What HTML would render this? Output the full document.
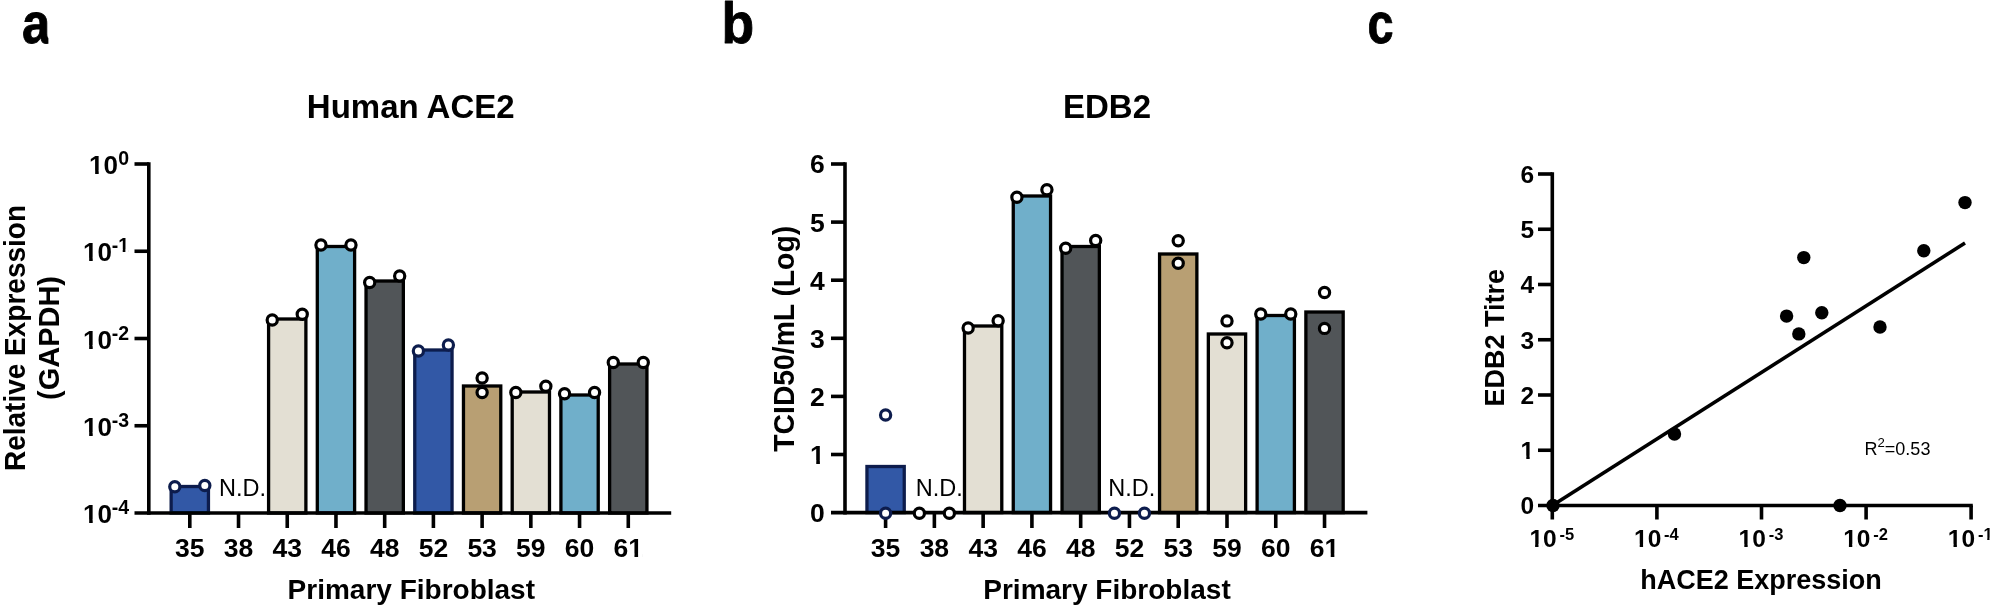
<!DOCTYPE html>
<html lang="en"><head><meta charset="utf-8"><title>Figure</title>
<style>
html,body{margin:0;padding:0;background:#fff;}
body{width:1992px;height:608px;overflow:hidden;}
svg{display:block;font-family:"Liberation Sans", Arial, Helvetica, sans-serif;fill:#000;}
</style></head>
<body>
<svg width="1992" height="608" viewBox="0 0 1992 608">
<defs><filter id="soft" x="0" y="0" width="1992" height="608" filterUnits="userSpaceOnUse"><feGaussianBlur stdDeviation="0.5"/></filter></defs>
<rect width="1992" height="608" fill="#fff"/>
<g filter="url(#soft)">
<rect width="1992" height="608" fill="#fff"/>
<text transform="translate(22.0 42.6) scale(0.885 1)" font-size="57.5" font-weight="bold" stroke="#000" stroke-width="0.9" stroke-linejoin="round">a</text>
<rect x="48.4" y="28" width="6" height="18" fill="#fff"/>
<text transform="translate(721.4 42.6) scale(0.93 1)" font-size="57.5" font-weight="bold" stroke="#000" stroke-width="0.9" stroke-linejoin="round">b</text>
<text transform="translate(1367.5 42.6) scale(0.815 1)" font-size="57.5" font-weight="bold" stroke="#000" stroke-width="0.9" stroke-linejoin="round">c</text>
<text x="306.8" y="117.9" font-size="33" font-weight="bold" text-anchor="start" >Human ACE2</text>
<rect x="171.15" y="486.50" width="37.3" height="26.50" fill="#3058a6" stroke="#0f1f4d" stroke-width="3.3"/>
<rect x="268.59" y="319.00" width="37.3" height="194.00" fill="#e3dfd3" stroke="#000" stroke-width="3.3"/>
<rect x="317.31" y="246.50" width="37.3" height="266.50" fill="#70afca" stroke="#000" stroke-width="3.3"/>
<rect x="366.03" y="281.00" width="37.3" height="232.00" fill="#515559" stroke="#000" stroke-width="3.3"/>
<rect x="414.75" y="350.00" width="37.3" height="163.00" fill="#3058a6" stroke="#0f1f4d" stroke-width="3.3"/>
<rect x="463.47" y="386.00" width="37.3" height="127.00" fill="#b89f73" stroke="#000" stroke-width="3.3"/>
<rect x="512.19" y="392.00" width="37.3" height="121.00" fill="#e3dfd3" stroke="#000" stroke-width="3.3"/>
<rect x="560.91" y="395.00" width="37.3" height="118.00" fill="#70afca" stroke="#000" stroke-width="3.3"/>
<rect x="609.63" y="364.00" width="37.3" height="149.00" fill="#515559" stroke="#000" stroke-width="3.3"/>
<line x1="148.80" y1="162.20" x2="148.80" y2="514.80" stroke="#000" stroke-width="3.6" stroke-linecap="butt"/>
<line x1="134.50" y1="513.00" x2="671.20" y2="513.00" stroke="#000" stroke-width="3.6" stroke-linecap="butt"/>
<line x1="134.50" y1="164.00" x2="148.80" y2="164.00" stroke="#000" stroke-width="3.6" stroke-linecap="butt"/>
<line x1="134.50" y1="251.25" x2="148.80" y2="251.25" stroke="#000" stroke-width="3.6" stroke-linecap="butt"/>
<line x1="134.50" y1="338.50" x2="148.80" y2="338.50" stroke="#000" stroke-width="3.6" stroke-linecap="butt"/>
<line x1="134.50" y1="425.75" x2="148.80" y2="425.75" stroke="#000" stroke-width="3.6" stroke-linecap="butt"/>
<line x1="189.80" y1="513.00" x2="189.80" y2="528.00" stroke="#000" stroke-width="3.6" stroke-linecap="butt"/>
<line x1="238.52" y1="513.00" x2="238.52" y2="528.00" stroke="#000" stroke-width="3.6" stroke-linecap="butt"/>
<line x1="287.24" y1="513.00" x2="287.24" y2="528.00" stroke="#000" stroke-width="3.6" stroke-linecap="butt"/>
<line x1="335.96" y1="513.00" x2="335.96" y2="528.00" stroke="#000" stroke-width="3.6" stroke-linecap="butt"/>
<line x1="384.68" y1="513.00" x2="384.68" y2="528.00" stroke="#000" stroke-width="3.6" stroke-linecap="butt"/>
<line x1="433.40" y1="513.00" x2="433.40" y2="528.00" stroke="#000" stroke-width="3.6" stroke-linecap="butt"/>
<line x1="482.12" y1="513.00" x2="482.12" y2="528.00" stroke="#000" stroke-width="3.6" stroke-linecap="butt"/>
<line x1="530.84" y1="513.00" x2="530.84" y2="528.00" stroke="#000" stroke-width="3.6" stroke-linecap="butt"/>
<line x1="579.56" y1="513.00" x2="579.56" y2="528.00" stroke="#000" stroke-width="3.6" stroke-linecap="butt"/>
<line x1="628.28" y1="513.00" x2="628.28" y2="528.00" stroke="#000" stroke-width="3.6" stroke-linecap="butt"/>
<circle cx="174.80" cy="486.80" r="5.1" fill="#fff" stroke="#0f1f4d" stroke-width="3.2"/>
<circle cx="204.80" cy="485.50" r="5.1" fill="#fff" stroke="#0f1f4d" stroke-width="3.2"/>
<circle cx="272.24" cy="320.00" r="5.1" fill="#fff" stroke="#000" stroke-width="3.2"/>
<circle cx="302.24" cy="314.30" r="5.1" fill="#fff" stroke="#000" stroke-width="3.2"/>
<circle cx="320.96" cy="245.00" r="5.1" fill="#fff" stroke="#000" stroke-width="3.2"/>
<circle cx="350.96" cy="245.00" r="5.1" fill="#fff" stroke="#000" stroke-width="3.2"/>
<circle cx="369.68" cy="282.50" r="5.1" fill="#fff" stroke="#000" stroke-width="3.2"/>
<circle cx="399.68" cy="276.00" r="5.1" fill="#fff" stroke="#000" stroke-width="3.2"/>
<circle cx="418.40" cy="351.00" r="5.1" fill="#fff" stroke="#0f1f4d" stroke-width="3.2"/>
<circle cx="448.40" cy="345.00" r="5.1" fill="#fff" stroke="#0f1f4d" stroke-width="3.2"/>
<circle cx="482.12" cy="378.00" r="5.1" fill="#fff" stroke="#000" stroke-width="3.2"/>
<circle cx="482.12" cy="392.50" r="5.1" fill="#fff" stroke="#000" stroke-width="3.2"/>
<circle cx="515.84" cy="392.50" r="5.1" fill="#fff" stroke="#000" stroke-width="3.2"/>
<circle cx="545.84" cy="386.30" r="5.1" fill="#fff" stroke="#000" stroke-width="3.2"/>
<circle cx="564.56" cy="393.80" r="5.1" fill="#fff" stroke="#000" stroke-width="3.2"/>
<circle cx="594.56" cy="392.50" r="5.1" fill="#fff" stroke="#000" stroke-width="3.2"/>
<circle cx="613.28" cy="362.50" r="5.1" fill="#fff" stroke="#000" stroke-width="3.2"/>
<circle cx="643.28" cy="362.50" r="5.1" fill="#fff" stroke="#000" stroke-width="3.2"/>
<text x="175.07" y="557.30" font-size="26.5" font-weight="bold">35</text>
<text x="223.79" y="557.30" font-size="26.5" font-weight="bold">38</text>
<text x="272.51" y="557.30" font-size="26.5" font-weight="bold">43</text>
<text x="321.23" y="557.30" font-size="26.5" font-weight="bold">46</text>
<text x="369.95" y="557.30" font-size="26.5" font-weight="bold">48</text>
<text x="418.67" y="557.30" font-size="26.5" font-weight="bold">52</text>
<text x="467.39" y="557.30" font-size="26.5" font-weight="bold">53</text>
<text x="516.11" y="557.30" font-size="26.5" font-weight="bold">59</text>
<text x="564.83" y="557.30" font-size="26.5" font-weight="bold">60</text>
<text x="613.55" y="557.30" font-size="26.5" font-weight="bold">61</text>
<rect x="629.07" y="553.72" width="5.39" height="4.37" fill="#fff"/>
<rect x="638.10" y="553.72" width="4.77" height="4.37" fill="#fff"/>
<text x="118.16" y="165.00" font-size="19.5" font-weight="bold">0</text>
<text x="89.09" y="174.00" font-size="26" font-weight="bold">10</text>
<rect x="89.87" y="170.49" width="5.29" height="4.29" fill="#fff"/>
<rect x="98.72" y="170.49" width="4.68" height="4.29" fill="#fff"/>
<text x="111.66" y="252.25" font-size="19.5" font-weight="bold">-1</text>
<rect x="118.74" y="249.62" width="3.97" height="3.22" fill="#fff"/>
<rect x="125.38" y="249.62" width="3.51" height="3.22" fill="#fff"/>
<text x="83.09" y="261.25" font-size="26" font-weight="bold">10</text>
<rect x="83.87" y="257.74" width="5.29" height="4.29" fill="#fff"/>
<rect x="92.72" y="257.74" width="4.68" height="4.29" fill="#fff"/>
<text x="111.66" y="339.50" font-size="19.5" font-weight="bold">-2</text>
<text x="83.09" y="348.50" font-size="26" font-weight="bold">10</text>
<rect x="83.87" y="344.99" width="5.29" height="4.29" fill="#fff"/>
<rect x="92.72" y="344.99" width="4.68" height="4.29" fill="#fff"/>
<text x="111.66" y="426.75" font-size="19.5" font-weight="bold">-3</text>
<text x="83.09" y="435.75" font-size="26" font-weight="bold">10</text>
<rect x="83.87" y="432.24" width="5.29" height="4.29" fill="#fff"/>
<rect x="92.72" y="432.24" width="4.68" height="4.29" fill="#fff"/>
<text x="111.66" y="514.00" font-size="19.5" font-weight="bold">-4</text>
<text x="83.09" y="523.00" font-size="26" font-weight="bold">10</text>
<rect x="83.87" y="519.49" width="5.29" height="4.29" fill="#fff"/>
<rect x="92.72" y="519.49" width="4.68" height="4.29" fill="#fff"/>
<text x="219" y="496" font-size="23.5" font-weight="normal" text-anchor="start" >N.D.</text>
<text x="411.3" y="599.3" font-size="28" font-weight="bold" text-anchor="middle" >Primary Fibroblast</text>
<text transform="translate(25.3 338) rotate(-90) scale(1 1.07)" font-size="28" font-weight="bold" text-anchor="middle">Relative Expression</text>
<text transform="translate(59.0 338) rotate(-90) scale(1 1.02)" font-size="29" font-weight="bold" text-anchor="middle">(GAPDH)</text>
<text x="1107" y="118" font-size="33" font-weight="bold" text-anchor="middle" >EDB2</text>
<rect x="866.95" y="466.50" width="37.3" height="46.10" fill="#3058a6" stroke="#0f1f4d" stroke-width="3.3"/>
<rect x="964.49" y="326.00" width="37.3" height="186.60" fill="#e3dfd3" stroke="#000" stroke-width="3.3"/>
<rect x="1013.26" y="196.00" width="37.3" height="316.60" fill="#70afca" stroke="#000" stroke-width="3.3"/>
<rect x="1062.03" y="246.50" width="37.3" height="266.10" fill="#515559" stroke="#000" stroke-width="3.3"/>
<rect x="1159.57" y="254.00" width="37.3" height="258.60" fill="#b89f73" stroke="#000" stroke-width="3.3"/>
<rect x="1208.34" y="334.00" width="37.3" height="178.60" fill="#e3dfd3" stroke="#000" stroke-width="3.3"/>
<rect x="1257.11" y="315.50" width="37.3" height="197.10" fill="#70afca" stroke="#000" stroke-width="3.3"/>
<rect x="1305.88" y="312.00" width="37.3" height="200.60" fill="#515559" stroke="#000" stroke-width="3.3"/>
<line x1="845.00" y1="162.20" x2="845.00" y2="514.40" stroke="#000" stroke-width="3.6" stroke-linecap="butt"/>
<line x1="831.00" y1="512.60" x2="1367.40" y2="512.60" stroke="#000" stroke-width="3.6" stroke-linecap="butt"/>
<line x1="831.00" y1="164.00" x2="845.00" y2="164.00" stroke="#000" stroke-width="3.6" stroke-linecap="butt"/>
<line x1="831.00" y1="222.10" x2="845.00" y2="222.10" stroke="#000" stroke-width="3.6" stroke-linecap="butt"/>
<line x1="831.00" y1="280.20" x2="845.00" y2="280.20" stroke="#000" stroke-width="3.6" stroke-linecap="butt"/>
<line x1="831.00" y1="338.30" x2="845.00" y2="338.30" stroke="#000" stroke-width="3.6" stroke-linecap="butt"/>
<line x1="831.00" y1="396.40" x2="845.00" y2="396.40" stroke="#000" stroke-width="3.6" stroke-linecap="butt"/>
<line x1="831.00" y1="454.50" x2="845.00" y2="454.50" stroke="#000" stroke-width="3.6" stroke-linecap="butt"/>
<line x1="885.60" y1="512.60" x2="885.60" y2="528.00" stroke="#000" stroke-width="3.6" stroke-linecap="butt"/>
<line x1="934.37" y1="512.60" x2="934.37" y2="528.00" stroke="#000" stroke-width="3.6" stroke-linecap="butt"/>
<line x1="983.14" y1="512.60" x2="983.14" y2="528.00" stroke="#000" stroke-width="3.6" stroke-linecap="butt"/>
<line x1="1031.91" y1="512.60" x2="1031.91" y2="528.00" stroke="#000" stroke-width="3.6" stroke-linecap="butt"/>
<line x1="1080.68" y1="512.60" x2="1080.68" y2="528.00" stroke="#000" stroke-width="3.6" stroke-linecap="butt"/>
<line x1="1129.45" y1="512.60" x2="1129.45" y2="528.00" stroke="#000" stroke-width="3.6" stroke-linecap="butt"/>
<line x1="1178.22" y1="512.60" x2="1178.22" y2="528.00" stroke="#000" stroke-width="3.6" stroke-linecap="butt"/>
<line x1="1226.99" y1="512.60" x2="1226.99" y2="528.00" stroke="#000" stroke-width="3.6" stroke-linecap="butt"/>
<line x1="1275.76" y1="512.60" x2="1275.76" y2="528.00" stroke="#000" stroke-width="3.6" stroke-linecap="butt"/>
<line x1="1324.53" y1="512.60" x2="1324.53" y2="528.00" stroke="#000" stroke-width="3.6" stroke-linecap="butt"/>
<circle cx="968.14" cy="328.00" r="5.1" fill="#fff" stroke="#000" stroke-width="3.2"/>
<circle cx="998.14" cy="320.70" r="5.1" fill="#fff" stroke="#000" stroke-width="3.2"/>
<circle cx="1016.91" cy="197.30" r="5.1" fill="#fff" stroke="#000" stroke-width="3.2"/>
<circle cx="1046.91" cy="189.80" r="5.1" fill="#fff" stroke="#000" stroke-width="3.2"/>
<circle cx="1065.68" cy="248.20" r="5.1" fill="#fff" stroke="#000" stroke-width="3.2"/>
<circle cx="1095.68" cy="240.40" r="5.1" fill="#fff" stroke="#000" stroke-width="3.2"/>
<circle cx="1178.22" cy="240.70" r="5.1" fill="#fff" stroke="#000" stroke-width="3.2"/>
<circle cx="1178.22" cy="263.20" r="5.1" fill="#fff" stroke="#000" stroke-width="3.2"/>
<circle cx="1226.99" cy="320.90" r="5.1" fill="#fff" stroke="#000" stroke-width="3.2"/>
<circle cx="1226.99" cy="342.80" r="5.1" fill="#fff" stroke="#000" stroke-width="3.2"/>
<circle cx="1260.76" cy="314.00" r="5.1" fill="#fff" stroke="#000" stroke-width="3.2"/>
<circle cx="1290.76" cy="314.00" r="5.1" fill="#fff" stroke="#000" stroke-width="3.2"/>
<circle cx="1324.53" cy="292.50" r="5.1" fill="#fff" stroke="#000" stroke-width="3.2"/>
<circle cx="1324.53" cy="328.40" r="5.1" fill="#fff" stroke="#000" stroke-width="3.2"/>
<circle cx="885.60" cy="415.00" r="5.1" fill="#fff" stroke="#0f1f4d" stroke-width="3.2"/>
<circle cx="885.60" cy="513.20" r="5.1" fill="#fff" stroke="#0f1f4d" stroke-width="3.2"/>
<circle cx="919.37" cy="513.20" r="5.1" fill="#fff" stroke="#000" stroke-width="3.2"/>
<circle cx="949.37" cy="513.20" r="5.1" fill="#fff" stroke="#000" stroke-width="3.2"/>
<circle cx="1114.45" cy="513.20" r="5.1" fill="#fff" stroke="#0f1f4d" stroke-width="3.2"/>
<circle cx="1144.45" cy="513.20" r="5.1" fill="#fff" stroke="#0f1f4d" stroke-width="3.2"/>
<text x="870.87" y="557.30" font-size="26.5" font-weight="bold">35</text>
<text x="919.64" y="557.30" font-size="26.5" font-weight="bold">38</text>
<text x="968.41" y="557.30" font-size="26.5" font-weight="bold">43</text>
<text x="1017.18" y="557.30" font-size="26.5" font-weight="bold">46</text>
<text x="1065.95" y="557.30" font-size="26.5" font-weight="bold">48</text>
<text x="1114.72" y="557.30" font-size="26.5" font-weight="bold">52</text>
<text x="1163.49" y="557.30" font-size="26.5" font-weight="bold">53</text>
<text x="1212.26" y="557.30" font-size="26.5" font-weight="bold">59</text>
<text x="1261.03" y="557.30" font-size="26.5" font-weight="bold">60</text>
<text x="1309.80" y="557.30" font-size="26.5" font-weight="bold">61</text>
<rect x="1325.33" y="553.72" width="5.39" height="4.37" fill="#fff"/>
<rect x="1334.35" y="553.72" width="4.77" height="4.37" fill="#fff"/>
<text x="810.07" y="173.40" font-size="26.5" font-weight="bold">6</text>
<text x="810.07" y="231.50" font-size="26.5" font-weight="bold">5</text>
<text x="810.07" y="289.60" font-size="26.5" font-weight="bold">4</text>
<text x="810.07" y="347.70" font-size="26.5" font-weight="bold">3</text>
<text x="810.07" y="405.80" font-size="26.5" font-weight="bold">2</text>
<text x="810.07" y="463.90" font-size="26.5" font-weight="bold">1</text>
<rect x="810.86" y="460.32" width="5.39" height="4.37" fill="#fff"/>
<rect x="819.89" y="460.32" width="4.77" height="4.37" fill="#fff"/>
<text x="810.07" y="522.00" font-size="26.5" font-weight="bold">0</text>
<text x="915.7" y="496" font-size="23.5" font-weight="normal" text-anchor="start" >N.D.</text>
<text x="1108.3" y="496" font-size="23.5" font-weight="normal" text-anchor="start" >N.D.</text>
<text x="1107" y="599.3" font-size="28" font-weight="bold" text-anchor="middle" >Primary Fibroblast</text>
<text transform="translate(793.8 338.8) rotate(-90) scale(1 1.04)" font-size="28.3" font-weight="bold" text-anchor="middle">TCID50/mL (Log)</text>
<line x1="1552.30" y1="172.20" x2="1552.30" y2="505.50" stroke="#000" stroke-width="3.6" stroke-linecap="butt"/>
<line x1="1538.00" y1="505.50" x2="1972.80" y2="505.50" stroke="#000" stroke-width="3.6" stroke-linecap="butt"/>
<line x1="1538.00" y1="174.00" x2="1552.30" y2="174.00" stroke="#000" stroke-width="3.6" stroke-linecap="butt"/>
<line x1="1538.00" y1="229.25" x2="1552.30" y2="229.25" stroke="#000" stroke-width="3.6" stroke-linecap="butt"/>
<line x1="1538.00" y1="284.50" x2="1552.30" y2="284.50" stroke="#000" stroke-width="3.6" stroke-linecap="butt"/>
<line x1="1538.00" y1="339.75" x2="1552.30" y2="339.75" stroke="#000" stroke-width="3.6" stroke-linecap="butt"/>
<line x1="1538.00" y1="395.00" x2="1552.30" y2="395.00" stroke="#000" stroke-width="3.6" stroke-linecap="butt"/>
<line x1="1538.00" y1="450.25" x2="1552.30" y2="450.25" stroke="#000" stroke-width="3.6" stroke-linecap="butt"/>
<line x1="1552.30" y1="505.50" x2="1552.30" y2="519.50" stroke="#000" stroke-width="3.6" stroke-linecap="butt"/>
<line x1="1656.90" y1="505.50" x2="1656.90" y2="519.50" stroke="#000" stroke-width="3.6" stroke-linecap="butt"/>
<line x1="1761.50" y1="505.50" x2="1761.50" y2="519.50" stroke="#000" stroke-width="3.6" stroke-linecap="butt"/>
<line x1="1866.10" y1="505.50" x2="1866.10" y2="519.50" stroke="#000" stroke-width="3.6" stroke-linecap="butt"/>
<line x1="1971.10" y1="505.50" x2="1971.10" y2="519.50" stroke="#000" stroke-width="3.6" stroke-linecap="butt"/>
<line x1="1552.30" y1="505.50" x2="1965.00" y2="243.00" stroke="#000" stroke-width="3.6" stroke-linecap="butt"/>
<circle cx="1965" cy="202.6" r="6.7" fill="#000"/>
<circle cx="1923.8" cy="250.7" r="6.7" fill="#000"/>
<circle cx="1803.8" cy="257.6" r="6.7" fill="#000"/>
<circle cx="1786.6" cy="316.1" r="6.7" fill="#000"/>
<circle cx="1821.8" cy="312.8" r="6.7" fill="#000"/>
<circle cx="1798.8" cy="333.9" r="6.7" fill="#000"/>
<circle cx="1880" cy="327" r="6.7" fill="#000"/>
<circle cx="1674.5" cy="434" r="6.7" fill="#000"/>
<circle cx="1840" cy="505.5" r="6.7" fill="#000"/>
<circle cx="1553" cy="505.5" r="6.7" fill="#000"/>
<text x="1520.58" y="182.80" font-size="24.5" font-weight="bold">6</text>
<text x="1520.58" y="238.05" font-size="24.5" font-weight="bold">5</text>
<text x="1520.58" y="293.30" font-size="24.5" font-weight="bold">4</text>
<text x="1520.58" y="348.55" font-size="24.5" font-weight="bold">3</text>
<text x="1520.58" y="403.80" font-size="24.5" font-weight="bold">2</text>
<text x="1520.58" y="459.05" font-size="24.5" font-weight="bold">1</text>
<rect x="1521.31" y="455.74" width="4.98" height="4.04" fill="#fff"/>
<rect x="1529.66" y="455.74" width="4.41" height="4.04" fill="#fff"/>
<text x="1520.58" y="514.30" font-size="24.5" font-weight="bold">0</text>
<text x="1529.40" y="547.20" font-size="24.5" font-weight="bold">10</text>
<rect x="1530.13" y="543.89" width="4.98" height="4.04" fill="#fff"/>
<rect x="1538.48" y="543.89" width="4.41" height="4.04" fill="#fff"/>
<text x="1559.50" y="540.00" font-size="16.5" font-weight="bold">-5</text>
<text x="1634.00" y="547.20" font-size="24.5" font-weight="bold">10</text>
<rect x="1634.73" y="543.89" width="4.98" height="4.04" fill="#fff"/>
<rect x="1643.08" y="543.89" width="4.41" height="4.04" fill="#fff"/>
<text x="1664.10" y="540.00" font-size="16.5" font-weight="bold">-4</text>
<text x="1738.60" y="547.20" font-size="24.5" font-weight="bold">10</text>
<rect x="1739.33" y="543.89" width="4.98" height="4.04" fill="#fff"/>
<rect x="1747.68" y="543.89" width="4.41" height="4.04" fill="#fff"/>
<text x="1768.70" y="540.00" font-size="16.5" font-weight="bold">-3</text>
<text x="1843.20" y="547.20" font-size="24.5" font-weight="bold">10</text>
<rect x="1843.93" y="543.89" width="4.98" height="4.04" fill="#fff"/>
<rect x="1852.28" y="543.89" width="4.41" height="4.04" fill="#fff"/>
<text x="1873.30" y="540.00" font-size="16.5" font-weight="bold">-2</text>
<text x="1947.80" y="547.20" font-size="24.5" font-weight="bold">10</text>
<rect x="1948.53" y="543.89" width="4.98" height="4.04" fill="#fff"/>
<rect x="1956.88" y="543.89" width="4.41" height="4.04" fill="#fff"/>
<text x="1977.90" y="540.00" font-size="16.5" font-weight="bold">-1</text>
<rect x="1983.89" y="537.77" width="3.36" height="2.72" fill="#fff"/>
<rect x="1989.51" y="537.77" width="2.97" height="2.72" fill="#fff"/>
<text x="1761" y="589" font-size="27" font-weight="bold" text-anchor="middle" >hACE2 Expression</text>
<text transform="translate(1504.1 337.7) rotate(-90) scale(1 1.03)" font-size="27" font-weight="bold" text-anchor="middle">EDB2 Titre</text>
<text x="1864.5" y="455" font-size="18" font-weight="normal">R<tspan dy="-8.2" font-size="13.2">2</tspan><tspan dy="8.2">=0.53</tspan></text>
</g>
</svg>
</body></html>
